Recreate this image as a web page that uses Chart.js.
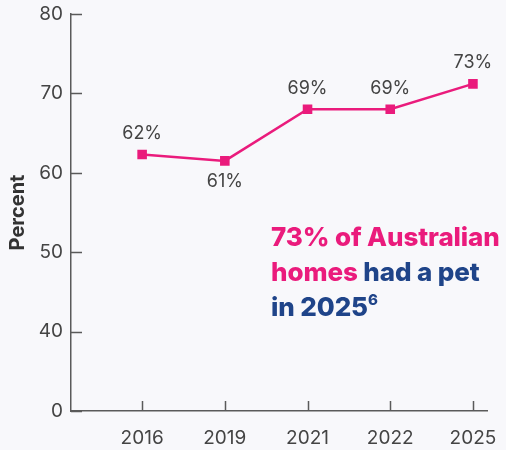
<!DOCTYPE html>
<html>
<head>
<meta charset="utf-8">
<script src="https://cdn.jsdelivr.net/npm/chart.js@4"></script>
<style>
  html, body { margin: 0; padding: 0; background: #f8f8fb; }
  #wrap { position: relative; width: 506px; height: 450px; }
  #note {
    position: absolute; left: 271px; top: 219px;
    font-family: Inter, "Open Sans", sans-serif; font-weight: 800;
    font-size: 26px; line-height: 35px; color: #1f4489; letter-spacing: -0.1px;
  }
  #note .pink { color: #ea1b7c; }
  #note sup { font-size: 15px; vertical-align: 11px; line-height: 0; }
</style>
</head>
<body>
<div id="wrap">
  <canvas id="petChart" width="506" height="450"></canvas>
  <div id="note"><span class="pink">73% of Australian<br>homes</span> had a pet<br>in 2025<sup>6</sup></div>
</div>
<script>
const years = ['2016', '2019', '2021', '2022', '2025'];
const percentPlotted = [62.3, 61.5, 68, 68, 71.2];
const percentLabels = ['62%', '61%', '69%', '69%', '73%'];
const labelBelow = [false, true, false, false, false];
const yTickValues = [30, 40, 50, 60, 70, 80];
const yTickLabels = ['0', '40', '50', '60', '70', '80'];

const pink = '#ea1b7c';
const axisColor = '#5a5a5a';
const textColor = '#444';
const fontFamily = 'Inter, "Open Sans", sans-serif';

// tick marks point into the plot area, and the value labels sit over the points
const innerTicks = {
    id: 'innerTicks',
    afterDraw(chart) {
        const ctx = chart.ctx;
        const x = chart.scales.x, y = chart.scales.y;
        ctx.save();
        ctx.strokeStyle = axisColor;
        ctx.lineWidth = 1.5;
        ctx.beginPath();
        yTickValues.forEach(v => {
            const py = Math.round(y.getPixelForValue(v)) + 0.5;
            ctx.moveTo(x.left, py);
            ctx.lineTo(x.left + 11, py);
        });
        years.forEach((yr, i) => {
            const px = Math.round(x.getPixelForValue(i)) + 0.5;
            ctx.moveTo(px, y.bottom);
            ctx.lineTo(px, y.bottom - 10);
        });
        ctx.stroke();

        const meta = chart.getDatasetMeta(0);
        ctx.fillStyle = textColor;
        ctx.font = '18px ' + fontFamily;
        ctx.textAlign = 'center';
        ctx.textBaseline = 'middle';
        meta.data.forEach((pt, i) => {
            const dy = labelBelow[i] ? 21 : -21;
            ctx.fillText(percentLabels[i], pt.x, pt.y + dy);
        });
        ctx.restore();
    }
};

document.addEventListener('DOMContentLoaded', () => {
    const ctx = document.getElementById('petChart').getContext('2d');
    new Chart(ctx, {
        type: 'line',
        data: {
            datasets: [{
                data: percentPlotted.map((v, i) => ({ x: i, y: v })),
                borderColor: pink,
                backgroundColor: pink,
                borderWidth: 2.5,
                pointStyle: 'rect',
                pointRadius: 5,
                pointHoverRadius: 5,
                tension: 0
            }]
        },
        options: {
            responsive: false,
            animation: false,
            events: [],
            layout: { padding: { top: 14, right: 19, left: 0, bottom: 0 } },
            plugins: { legend: { display: false }, tooltip: { enabled: false } },
            scales: {
                x: {
                    type: 'linear',
                    min: -0.86,
                    max: 4.17,
                    afterBuildTicks(scale) {
                        scale.ticks = years.map((y, i) => ({ value: i }));
                    },
                    afterFit(scale) {
                        scale.height = 39;
                        scale.paddingLeft = 0;
                        scale.paddingRight = 0;
                    },
                    ticks: {
                        callback: (v) => years[v],
                        color: textColor,
                        font: { family: fontFamily, size: 19 },
                        padding: 16,
                        maxRotation: 0
                    },
                    grid: { display: false, drawTicks: false },
                    border: { color: axisColor, width: 1.5 }
                },
                y: {
                    min: 30,
                    max: 80,
                    afterBuildTicks(scale) {
                        scale.ticks = yTickValues.map(v => ({ value: v }));
                    },
                    afterFit(scale) {
                        scale.width = 71;
                        scale.paddingTop = 0;
                        scale.paddingBottom = 0;
                    },
                    ticks: {
                        callback: (v) => yTickLabels[yTickValues.indexOf(v)],
                        color: textColor,
                        font: { family: fontFamily, size: 19 },
                        padding: 8
                    },
                    title: {
                        display: true,
                        text: 'Percent',
                        color: '#333',
                        font: { family: fontFamily, size: 20, weight: 'bold' },
                        padding: { top: 6, bottom: 4 }
                    },
                    grid: { display: false, drawTicks: false },
                    border: { color: axisColor, width: 1.5 }
                }
            }
        },
        plugins: [innerTicks]
    });
});
</script>
</body>
</html>
